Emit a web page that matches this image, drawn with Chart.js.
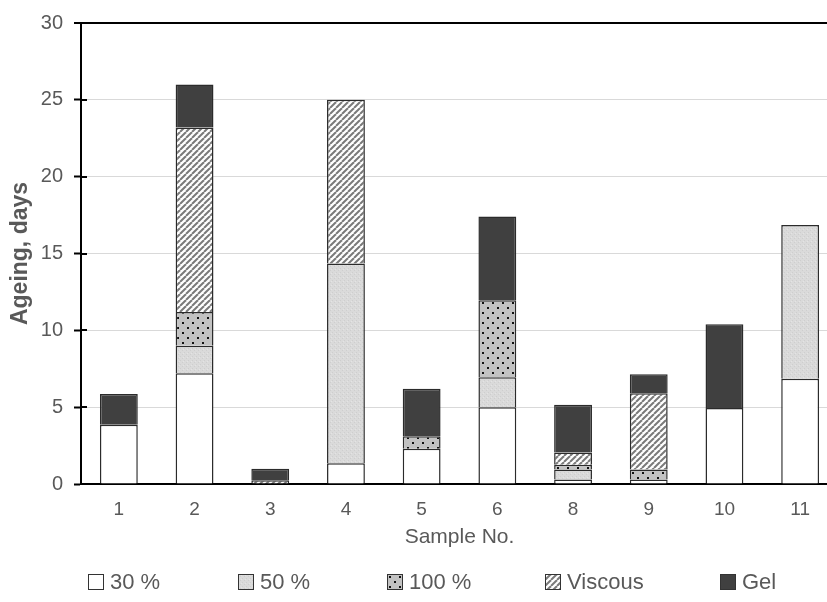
<!DOCTYPE html>
<html>
<head>
<meta charset="utf-8">
<title>Ageing</title>
<script src="https://cdn.jsdelivr.net/npm/chart.js@4.4.0/dist/chart.umd.min.js"></script>
<style>
  html, body { margin: 0; padding: 0; background: #fff; overflow: hidden; }
  #wrap { position: relative; width: 844px; height: 602px; }
  #legend { position: absolute; top: 569px; left: 0; width: 844px; height: 26px;
            font-family: "Liberation Sans", Arial, sans-serif; font-size: 22px; color: #595959; }
  .item { position: absolute; top: 0; height: 26px; display: flex; align-items: center; }
  .item canvas { margin-right: 6px; }
</style>
</head>
<body>
<div id="wrap">
  <canvas id="ageing" width="844" height="602"></canvas>
  <div id="legend"></div>
</div>
<script>
// sample numbers (7 is missing in the original)
var samples = ['1', '2', '3', '4', '5', '6', '8', '9', '10', '11'];
// days spent in each state, stacked bottom to top
var conc30  = [3.85, 7.2, 0,    1.35, 2.3, 5.0,  0.3,  0.3,  4.95, 6.85];
var conc50  = [0,    1.8, 0,    13.0, 0,   1.95, 0.65, 0,    0,    10.0];
var conc100 = [0,    2.2, 0,    0,    0.8, 5.0,  0.3,  0.65, 0,    0];
var viscous = [0,    12.0, 0.25, 10.65, 0,  0,    0.8,  4.95, 0,    0];
var gel     = [2.0,  2.8, 0.75, 0,    3.1, 5.45, 3.1,  1.25, 5.45, 0];
var yTicks = [0, 5, 10, 15, 20, 25, 30];

var legendLeft = [88, 238, 387, 545, 720];

Chart.defaults.font.family = "'Liberation Sans', Arial, sans-serif";
Chart.defaults.color = '#595959';

function makePattern(size, paint) {
  var c = document.createElement('canvas');
  c.width = size; c.height = size;
  var g = c.getContext('2d');
  paint(g, size);
  return g.createPattern(c, 'repeat');
}

var fill50 = makePattern(4, function(g) {
  g.fillStyle = '#dadada'; g.fillRect(0, 0, 4, 4);
  g.fillStyle = '#cecece'; g.fillRect(0, 0, 1, 1); g.fillRect(2, 2, 1, 1);
  g.fillStyle = '#e4e4e4'; g.fillRect(3, 1, 1, 1);
});
var fill100 = makePattern(10, function(g) {
  g.fillStyle = '#c2c2c2'; g.fillRect(0, 0, 10, 10);
  g.fillStyle = '#111'; g.fillRect(2, 2, 2, 2); g.fillRect(7, 7, 2, 2);
});
var fillVisc = makePattern(6, function(g) {
  g.fillStyle = '#fff'; g.fillRect(0, 0, 6, 6);
  g.strokeStyle = '#7a7a7a'; g.lineWidth = 2;
  [-6, 0, 6].forEach(function(x0) {
    g.beginPath(); g.moveTo(x0, 6); g.lineTo(x0 + 6, 0); g.stroke();
  });
});

var series = [
  { label: '30 %', data: conc30, fill: '#ffffff' },
  { label: '50 %', data: conc50, fill: fill50 },
  { label: '100 %', data: conc100, fill: fill100 },
  { label: 'Viscous', data: viscous, fill: fillVisc },
  { label: 'Gel', data: gel, fill: '#404040' }
];

// y-axis ticks also poke a little into the plot
var crossTicks = {
  id: 'crossTicks',
  afterDraw: function(chart) {
    var y = chart.scales.y, ctx = chart.ctx;
    ctx.save();
    ctx.strokeStyle = '#000';
    ctx.lineWidth = 2;
    y.ticks.forEach(function(t) {
      var py = Math.round(y.getPixelForValue(t.value));
      ctx.beginPath(); ctx.moveTo(y.right, py); ctx.lineTo(y.right + 6, py); ctx.stroke();
    });
    ctx.restore();
  }
};

var chart = new Chart('ageing', {
  type: 'bar',
  plugins: [crossTicks],
  data: {
    labels: samples,
    datasets: series.map(function(s) {
      return {
        label: s.label,
        data: s.data,
        backgroundColor: s.fill,
        borderColor: '#2b2b2b',
        borderWidth: 1.5,
        categoryPercentage: 1,
        barPercentage: 0.5
      };
    })
  },
  options: {
    responsive: false,
    animation: false,
    layout: { padding: { top: 23, right: 6, bottom: 52, left: 0 } },
    plugins: { legend: { display: false }, tooltip: { enabled: false } },
    scales: {
      x: {
        stacked: true,
        grid: { display: false, drawTicks: false },
        border: { color: '#000', width: 2 },
        ticks: { padding: 14, font: { size: 19 } },
        title: { display: true, text: 'Sample No.', font: { size: 21 }, padding: { top: 0, bottom: 0 } },
        afterFit: function(s) { s.height = 66; }
      },
      y: {
        stacked: true,
        min: 0,
        max: 30,
        afterBuildTicks: function(s) { s.ticks = yTicks.map(function(v) { return { value: v }; }); },
        ticks: { padding: 11, font: { size: 20 } },
        grid: {
          color: function(c) { return c.tick.value === 30 ? '#000' : (c.tick.value === 0 ? 'rgba(0,0,0,0)' : '#d9d9d9'); },
          lineWidth: function(c) { return c.tick.value === 30 ? 2 : 1; },
          tickLength: 7,
          tickColor: '#000',
          tickWidth: 2
        },
        border: { color: '#000', width: 2 },
        title: { display: true, text: 'Ageing, days', font: { size: 23, weight: 'bold' }, padding: { top: 7, bottom: 0 } },
        afterFit: function(s) { s.width = 81; }
      }
    }
  }
});

// legend below the chart, swatches use the same fills as the bars
var legend = document.getElementById('legend');
series.forEach(function(s, i) {
  var item = document.createElement('div');
  item.className = 'item';
  item.style.left = legendLeft[i] + 'px';
  var sw = document.createElement('canvas');
  sw.width = 16; sw.height = 16;
  var g = sw.getContext('2d');
  g.fillStyle = s.fill; g.fillRect(0, 0, 16, 16);
  g.strokeStyle = '#333'; g.lineWidth = 1; g.strokeRect(0.5, 0.5, 15, 15);
  var txt = document.createElement('span');
  txt.textContent = s.label;
  item.appendChild(sw);
  item.appendChild(txt);
  legend.appendChild(item);
});
</script>
</body>
</html>
